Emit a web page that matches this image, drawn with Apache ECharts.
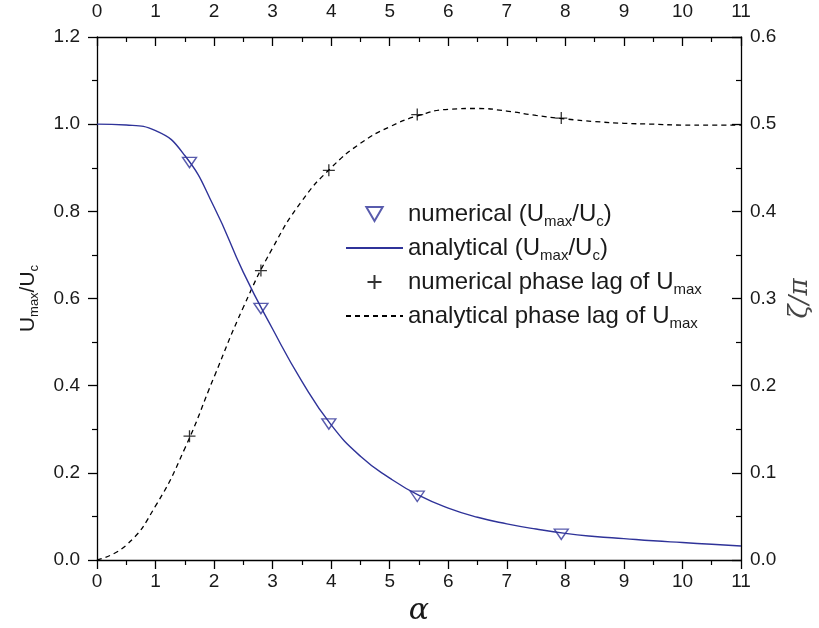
<!DOCTYPE html>
<html>
<head>
<meta charset="utf-8">
<script src="https://cdn.jsdelivr.net/npm/echarts@6/dist/echarts.min.js"></script>
<style>
  html, body { margin: 0; padding: 0; background: #fff; }
  #main { width: 819px; height: 628px; }
</style>
</head>
<body>
<div id="main"></div>
<script>
// numerical points (alpha, Umax/Uc) and (alpha, phase lag / pi)
const alphaNum = [1.58, 2.8, 3.96, 5.47, 7.93];
const numU = [0.912, 0.577, 0.312, 0.146, 0.059];
const numPhase = [0.142, 0.332, 0.447, 0.511, 0.507];

// analytical curves, every 0.5 in alpha
const alphaAna = [0, 0.5, 1, 1.5, 2, 2.5, 3, 3.5, 4, 4.5, 5, 5.5, 6, 6.5, 7, 7.5, 8, 8.5, 9, 9.5, 10, 10.5, 11];
const anaU = [1.0, 0.998, 0.985, 0.928, 0.81, 0.66, 0.53, 0.41, 0.31, 0.238, 0.188, 0.148, 0.119, 0.098, 0.083, 0.071, 0.061, 0.054, 0.049, 0.044, 0.04, 0.036, 0.032];
const anaPhase = [0, 0.017, 0.062, 0.128, 0.21, 0.29, 0.358, 0.412, 0.45, 0.478, 0.497, 0.51, 0.517, 0.518, 0.515, 0.51, 0.506, 0.503, 0.501, 0.5, 0.499, 0.499, 0.499];

// axes
const xMin = 0, xMax = 11, xStep = 1;
const yLeftMax = 1.2, yLeftStep = 0.2;
const yRightMax = 0.6, yRightStep = 0.1;

const blue = '#2f3399';
const font = 'Liberation Sans, Arial, sans-serif';
const triPath = 'path://M0,0L14,0L7,12Z';
const plusPath = 'path://M0,5L10,5M5,0L5,10';

const pair = (xs, ys) => xs.map((x, i) => [x, ys[i]]);

const legendRich = {
  n: { fontSize: 24, fontFamily: font, color: '#1a1a1a', lineHeight: 30 },
  s: { fontSize: 15, fontFamily: font, color: '#1a1a1a', lineHeight: 8, verticalAlign: 'bottom' }
};
const legendText = {
  'numerical (Umax/Uc)': '{n|numerical (U}{s|max}{n|/U}{s|c}{n|)}',
  'analytical (Umax/Uc)': '{n|analytical (U}{s|max}{n|/U}{s|c}{n|)}',
  'numerical phase lag of Umax': '{n|numerical phase lag of U}{s|max}',
  'analytical phase lag of Umax': '{n|analytical phase lag of U}{s|max}'
};
const noDot = { color: 'rgba(0,0,0,0)', borderColor: 'rgba(0,0,0,0)' };

const axisCommon = {
  type: 'value',
  axisLine: { show: true, onZero: false, lineStyle: { color: '#000', width: 1.3 } },
  axisTick: { show: true, length: 9, lineStyle: { color: '#000', width: 1.3 } },
  minorTick: { show: true, splitNumber: 2, length: 5, lineStyle: { color: '#000', width: 1.2 } },
  splitLine: { show: false },
  axisLabel: { fontSize: 19, fontFamily: font, color: '#1a1a1a' }
};

const chart = echarts.init(document.getElementById('main'));
chart.setOption({
  animation: false,
  backgroundColor: '#fff',
  grid: { left: 97, right: 78, top: 37, bottom: 68, containLabel: false, outerBoundsMode: 'none' },
  legend: {
    orient: 'vertical',
    left: 340,
    top: 197,
    itemWidth: 57,
    itemHeight: 14,
    itemGap: 7,
    symbolKeepAspect: true,
    data: [
      { name: 'numerical (Umax/Uc)', icon: triPath },
      { name: 'analytical (Umax/Uc)', itemStyle: noDot },
      { name: 'numerical phase lag of Umax', icon: plusPath },
      { name: 'analytical phase lag of Umax', itemStyle: noDot }
    ],
    formatter: (name) => legendText[name],
    textStyle: { rich: legendRich }
  },
  xAxis: [
    Object.assign({}, axisCommon, {
      position: 'bottom', min: xMin, max: xMax, interval: xStep,
      name: 'α', nameLocation: 'middle', nameGap: 36,
      nameTextStyle: { fontSize: 30, fontFamily: 'DejaVu Serif', fontStyle: 'italic', color: '#1a1a1a' },
      axisLabel: Object.assign({}, axisCommon.axisLabel, { margin: 12 })
    }),
    Object.assign({}, axisCommon, {
      position: 'top', min: xMin, max: xMax, interval: xStep,
      axisTick: Object.assign({}, axisCommon.axisTick, { inside: true }),
      minorTick: Object.assign({}, axisCommon.minorTick, { inside: true }),
      axisLabel: Object.assign({}, axisCommon.axisLabel, { margin: 16 })
    })
  ],
  yAxis: [
    Object.assign({}, axisCommon, {
      position: 'left', min: 0, max: yLeftMax, interval: yLeftStep,
      axisLabel: Object.assign({}, axisCommon.axisLabel, { margin: 17, formatter: (v) => v.toFixed(1) }),
      name: '{n|U}{s|max}{n|/U}{s|c}', nameLocation: 'middle', nameRotate: 90, nameGap: 56,
      nameTextStyle: {
        rich: {
          n: { fontSize: 21, fontFamily: font, color: '#1a1a1a', lineHeight: 26 },
          s: { fontSize: 13, fontFamily: font, color: '#1a1a1a', lineHeight: 8, verticalAlign: 'bottom' }
        }
      }
    }),
    Object.assign({}, axisCommon, {
      position: 'right', min: 0, max: yRightMax, interval: yRightStep,
      axisTick: Object.assign({}, axisCommon.axisTick, { inside: true }),
      minorTick: Object.assign({}, axisCommon.minorTick, { inside: true }),
      axisLabel: Object.assign({}, axisCommon.axisLabel, { margin: 9, formatter: (v) => v.toFixed(1) }),
      name: 'ζ/π', nameLocation: 'middle', nameRotate: 90, nameGap: 44,
      nameTextStyle: { fontSize: 26, fontFamily: 'DejaVu Serif', fontStyle: 'italic', color: '#444' }
    })
  ],
  series: [
    {
      name: 'analytical phase lag of Umax',
      type: 'line',
      xAxisIndex: 0, yAxisIndex: 1,
      smooth: 0.5,
      showSymbol: false, symbol: 'none',
      data: pair(alphaAna, anaPhase),
      lineStyle: { color: '#000', width: 1.3, type: [5, 4] },
      itemStyle: { color: '#000' },
      z: 2
    },
    {
      name: 'analytical (Umax/Uc)',
      type: 'line',
      xAxisIndex: 0, yAxisIndex: 0,
      smooth: 0.5,
      showSymbol: false, symbol: 'none',
      data: pair(alphaAna, anaU),
      lineStyle: { color: blue, width: 1.4 },
      itemStyle: { color: blue },
      z: 3
    },
    {
      name: 'numerical (Umax/Uc)',
      type: 'scatter',
      xAxisIndex: 0, yAxisIndex: 0,
      symbol: triPath, symbolSize: [14, 12], symbolKeepAspect: true,
      data: pair(alphaNum, numU),
      itemStyle: { color: 'rgba(0,0,0,0)', borderColor: blue, borderWidth: 1.4 },
      z: 4
    },
    {
      name: 'numerical phase lag of Umax',
      type: 'scatter',
      xAxisIndex: 0, yAxisIndex: 1,
      symbol: plusPath, symbolSize: 12,
      data: pair(alphaNum, numPhase),
      itemStyle: { color: 'rgba(0,0,0,0)', borderColor: '#000', borderWidth: 1.3 },
      z: 4
    }
  ]
});
</script>
</body>
</html>
